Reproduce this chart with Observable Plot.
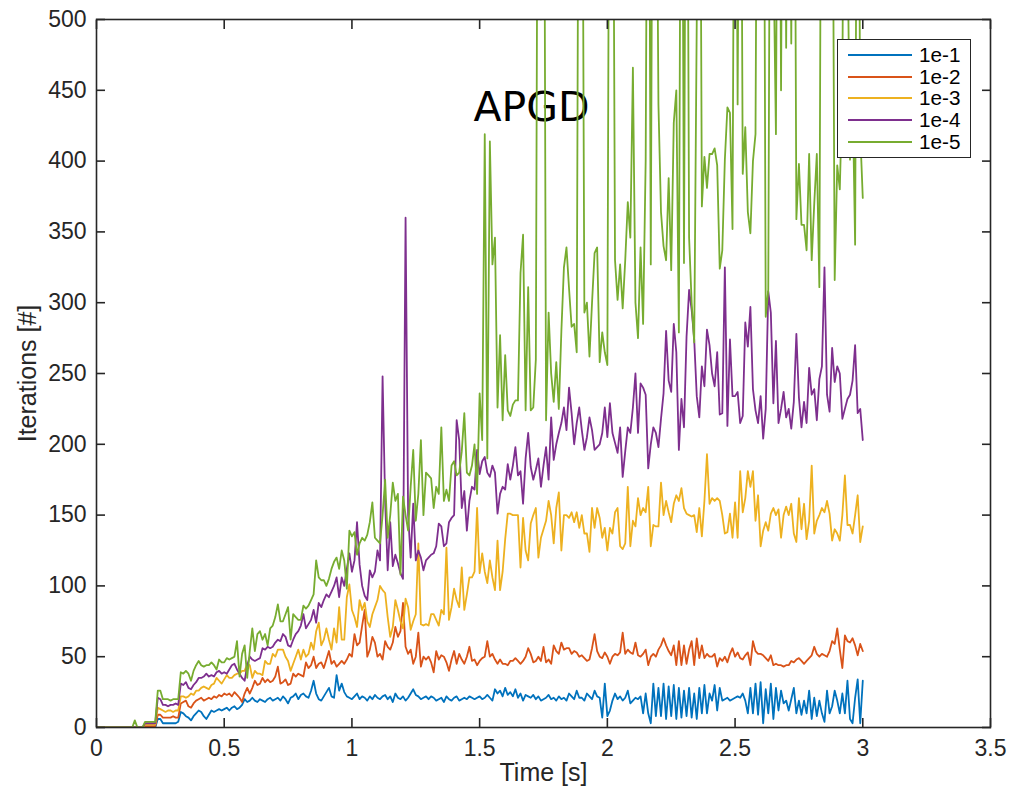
<!DOCTYPE html>
<html><head><meta charset="utf-8">
<script src="https://cdn.jsdelivr.net/npm/d3@7"></script>
<script src="https://cdn.jsdelivr.net/npm/@observablehq/plot@0.6"></script>
<style>
html,body{margin:0;padding:0;background:#fff;}
#wrap{position:relative;width:1010px;height:786px;overflow:hidden;}
#legend{position:absolute;left:837px;top:39px;width:134px;height:119px;border:1.6px solid #262626;background:#fff;box-sizing:border-box;font-family:"Liberation Sans",Arial,sans-serif;font-size:20.7px;color:#000;}
.row{position:absolute;left:10px;height:22px;display:flex;align-items:center;}
.sw{width:64px;height:0;border-top:2px solid;margin-right:7px;}
</style></head>
<body><div id="wrap"></div>
<script>
const seriesNames = ["1e-1","1e-2","1e-3","1e-4","1e-5"];
const seriesColors = ["#0072BD","#D95319","#EDB120","#7E2F8E","#77AC30"];
const xTicks = [0,0.5,1,1.5,2,2.5,3,3.5];
const yTicks = [0,50,100,150,200,250,300,350,400,450,500];
const tStart = 0, tStep = 0.01;

const it1e1 = [
0,0,0,0,0,0,0,0,0,0, 0,0,0,0,0,0,0,0,0,0, 0,0,0,0,6,6,3,3,3,3,
3,3,4,11,10,8,7,5,8,10, 12,11,8,6,9,12,11,12,13,12, 13,14,12,14,15,13,14,16,20,18,
19,21,19,18,20,19,18,20,21,19, 20,21,19,22,20,17,21,22,24,20, 23,24,22,21,26,33,24,20,19,22,
25,28,22,21,37,26,31,25,22,21, 20,22,24,20,22,21,19,22,20,23, 21,20,22,23,20,22,18,24,21,20,
22,19,21,24,27,23,22,20,21,22, 20,22,21,19,20,21,18,22,20,19, 21,22,19,20,21,20,22,21,20,21,
22,20,21,23,21,19,27,24,26,22, 28,23,25,22,27,21,24,19,23,22, 21,23,20,22,19,20,21,23,20,21,
19,22,20,21,19,24,22,20,26,21, 21,19,24,22,20,26,22,21,7,31, 8,12,19,24,20,22,19,21,26,17,
19,21,20,22,10,24,10,3,31,8, 28,8,31,6,29,8,30,6,28,7, 26,8,28,7,24,6,28,10,30,10,
24,19,30,12,28,19,20,21,19,20, 21,22,21,24,19,10,28,10,31,9, 32,3,27,10,31,6,28,12,26,17,
19,12,20,28,10,19,9,19,10,26, 6,21,8,19,10,4,26,10,15,26, 19,10,24,10,33,6,3,21,34,3,
33];

const it1e2 = [
0,0,0,0,0,0,0,0,0,0, 0,0,0,0,0,0,0,0,0,1, 1,1,1,1,9,9,7,7,7,7,
8,7,7,17,18,19,15,14,17,19, 20,21,19,20,21,20,22,21,23,22, 24,23,24,22,25,23,21,18,24,28,
24,28,33,30,31,35,32,34,32,33, 36,43,31,32,34,30,31,38,36,38, 37,36,46,42,44,50,42,45,46,42,
48,54,45,47,43,45,47,45,48,52, 50,66,58,60,72,83,50,55,64,60, 50,52,48,61,57,55,60,71,64,68,
88,57,52,55,45,50,67,43,50,48, 50,46,39,54,48,51,50,46,40,48, 54,45,52,48,45,50,57,47,48,44,
47,49,50,61,50,52,48,45,48,45, 45,44,47,47,49,47,45,47,50,56, 52,46,47,50,47,57,46,48,45,58,
54,52,60,55,56,56,52,54,53,50, 51,49,47,48,56,66,54,50,49,53, 50,45,50,52,51,53,67,52,55,53,
52,60,51,50,52,55,44,50,52,50, 55,58,63,58,54,51,58,44,61,44, 58,45,55,61,44,63,49,58,49,52,
50,50,52,43,49,47,50,46,52,56, 50,53,49,48,51,53,44,61,54,52, 52,51,49,47,51,44,45,44,44,43,
44,44,47,46,48,49,47,45,47,49, 51,57,52,50,52,51,50,54,61,59, 70,55,42,65,61,60,63,58,51,59,
54];

const it1e3 = [
0,0,0,0,0,0,0,0,0,0, 0,0,0,0,0,0,0,0,0,2, 2,2,2,2,14,13,12,11,12,12,
11,12,12,22,22,21,22,24,23,26, 26,28,29,28,27,30,31,35,33,31, 34,37,35,35,37,38,38,40,40,45,
44,35,40,38,38,37,47,45,45,52, 50,55,55,55,50,47,40,45,50,55, 48,55,50,52,60,55,68,74,58,62,
70,62,55,70,60,85,62,62,92,101, 83,78,71,90,83,88,75,71,80,85, 90,100,97,95,78,64,71,90,83,75,
70,91,85,69,75,80,130,73,72,73, 72,80,80,76,72,83,80,127,76,85, 98,90,85,113,83,94,106,106,110,155,
109,123,110,102,118,106,97,132,97,110, 133,151,151,150,150,150,113,148,125,118, 144,150,155,120,134,140,146,160,150,130,
155,166,125,150,150,148,152,145,152,141, 150,137,137,124,155,141,155,148,134,141, 125,141,137,152,155,128,126,130,170,128,
146,142,162,150,155,152,170,128,143,142, 142,173,150,160,152,145,158,164,160,169, 155,151,150,149,150,138,155,135,160,193,
158,162,160,162,160,150,137,138,151,134, 159,134,181,152,162,181,170,181,146,164, 128,139,145,139,151,155,150,154,134,150,
156,150,158,137,131,162,140,158,133,146, 185,137,146,150,155,152,160,151,132,140, 137,132,150,178,143,143,137,150,164,131,
142];

const it1e4 = [
0,0,0,0,0,0,0,0,0,0, 0,0,0,0,0,0,0,0,0,3, 3,3,3,3,21,20,16,16,15,16,
16,17,16,31,30,32,28,27,30,32, 35,35,36,38,36,37,36,39,40,38, 39,38,41,44,45,41,38,35,33,44,
50,48,47,48,49,56,55,57,56,57, 60,62,61,66,64,58,57,62,66,68, 72,80,70,73,76,83,74,88,85,90,
94,92,96,100,106,92,106,100,112,123, 110,118,145,115,100,93,90,111,106,110, 125,118,248,160,111,145,114,122,116,109,
105,360,150,120,158,118,125,120,111,118, 120,122,123,128,144,142,128,130,145,148, 150,217,203,155,167,139,160,170,168,196,
179,188,191,180,177,185,180,151,165,170, 168,186,175,185,198,178,181,158,190,208, 184,175,182,190,170,185,198,175,219,189,
200,208,215,226,210,240,222,200,215,226, 210,196,205,219,210,196,198,200,208,226, 205,229,208,201,194,212,177,195,212,208,
226,250,208,243,240,235,183,200,212,208, 198,218,236,280,245,237,285,265,196,232, 212,276,309,295,274,234,219,255,241,281,
270,250,241,265,221,222,325,213,274,234, 234,237,215,220,286,269,297,239,224,215, 234,204,225,308,293,229,273,215,225,237,
219,225,211,230,278,233,212,230,215,254, 235,239,217,246,255,325,235,223,268,244, 255,250,218,225,232,235,245,270,222,225,
203];

const it1e5 = [
0,0,0,0,0,0,0,0,0,0, 0,0,0,0,0,5,0,0,0,4, 4,4,4,4,26,26,20,20,20,19,
20,20,20,39,38,40,38,33,40,44, 47,44,43,44,44,46,44,41,48,46, 46,49,48,49,50,61,36,52,58,35,
54,70,54,66,68,62,66,58,70,72, 78,87,75,75,80,85,62,80,78,76, 76,86,84,86,90,94,118,106,104,104,
100,105,112,117,120,112,125,118,98,139, 135,138,122,130,134,132,136,145,159,134, 132,130,150,175,134,150,173,160,165,108,
163,150,139,170,196,146,165,203,150,180, 178,176,155,170,165,212,160,168,160,185, 188,178,180,195,222,180,178,185,200,165,
236,203,419,190,414,327,346,226,277,217, 263,224,220,228,231,231,321,348,224,311, 224,226,260,800,500,800,217,293,250,230,
258,225,280,325,339,310,283,285,265,800, 750,293,300,262,300,335,339,258,279,265, 256,800,750,330,302,327,296,330,371,346,
466,300,275,339,285,400,800,327,800,700, 440,364,340,330,388,323,427,450,279,800, 328,800,346,300,272,500,800,368,403,381,
405,405,409,397,324,337,401,438,434,352, 800,440,800,391,424,364,349,400,419,800, 560,800,290,309,800,550,419,800,450,800,
480,800,483,800,359,398,355,355,337,405, 330,370,405,311,800,620,700,800,700,316, 397,380,450,800,560,401,450,341,800,420,
374];

const allSeries = [it1e1, it1e2, it1e3, it1e4, it1e5];
const rows = [];
allSeries.forEach((vals, k) => vals.forEach((v, i) => rows.push({t: tStart + i * tStep, v, s: seriesNames[k]})));

const axisColor = "#262626";
const tickLen = 9;
const tickStyle = {stroke: axisColor, strokeWidth: 1.6, tickSize: tickLen, tickFormat: () => "", label: null};
const fmt = (d) => String(d);

const chart = Plot.plot({
  width: 1010,
  height: 786,
  marginLeft: 96,
  marginRight: 20,
  marginTop: 19,
  marginBottom: 59,
  style: {fontFamily: '"Liberation Sans", Arial, sans-serif', fontSize: "23px", color: axisColor, background: "#fff", overflow: "visible"},
  x: {domain: [0, 3.5]},
  y: {domain: [0, 500]},
  color: {domain: seriesNames, range: seriesColors},
  marks: [
    Plot.text(["APGD"], {frameAnchor: "top", lineAnchor: "middle", dx: -12, dy: 88, fontFamily: '"DejaVu Sans", sans-serif', fontSize: 41, fill: "#000"}),
    Plot.line(rows, {x: "t", y: "v", z: "s", stroke: "s", strokeWidth: 1.8, clip: true}),
    Plot.frame({stroke: axisColor, strokeWidth: 1.6}),
    Plot.axisX({ticks: xTicks, anchor: "bottom", tickSize: 0, tickPadding: 12, tickFormat: fmt, fontSize: 23, label: null}),
    Plot.axisY({ticks: yTicks, anchor: "left", tickSize: 0, tickPadding: 10, tickFormat: fmt, fontSize: 23, label: null}),
    Plot.axisX({ticks: xTicks, anchor: "bottom", dy: -tickLen, ...tickStyle}),
    Plot.axisX({ticks: xTicks, anchor: "top", dy: tickLen, ...tickStyle}),
    Plot.axisY({ticks: yTicks, anchor: "left", dx: tickLen, ...tickStyle}),
    Plot.axisY({ticks: yTicks, anchor: "right", dx: -tickLen, ...tickStyle}),
    Plot.text(["Time [s]"], {frameAnchor: "bottom", lineAnchor: "bottom", dy: 53, fontSize: 25, fill: axisColor}),
    Plot.text(["Iterations [#]"], {frameAnchor: "left", textAnchor: "middle", lineAnchor: "middle", dx: -69, rotate: -90, fontSize: 25, fill: axisColor})
  ]
});

const wrap = document.getElementById("wrap");
wrap.appendChild(chart);

const legend = document.createElement("div");
legend.id = "legend";
seriesNames.forEach((name, k) => {
  const row = document.createElement("div");
  row.className = "row";
  row.style.top = (4 + k * 21.7) + "px";
  const sw = document.createElement("div");
  sw.className = "sw";
  sw.style.borderTopColor = seriesColors[k];
  const lab = document.createElement("span");
  lab.textContent = name;
  row.appendChild(sw);
  row.appendChild(lab);
  legend.appendChild(row);
});
wrap.appendChild(legend);
</script>
</body></html>
